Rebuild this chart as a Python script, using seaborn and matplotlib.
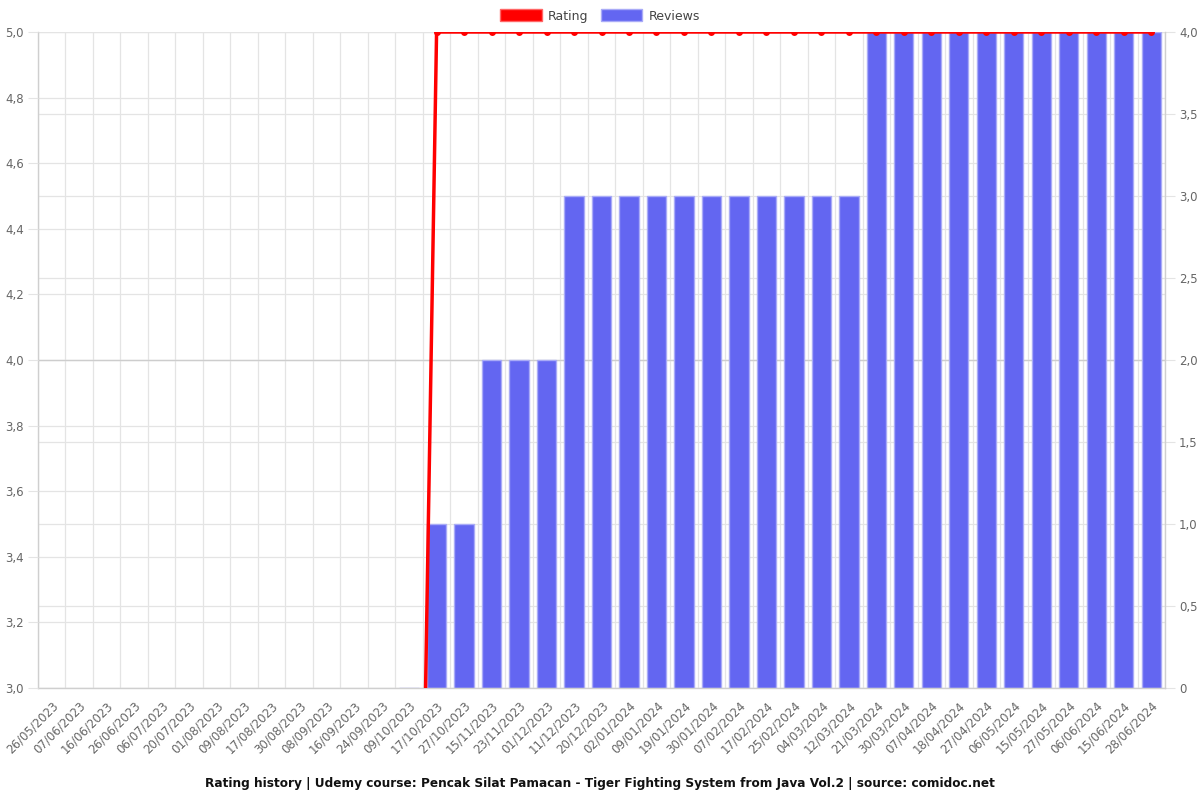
import matplotlib.pyplot as plt
import matplotlib.ticker as mticker
from matplotlib.patches import Patch
import numpy as np
import seaborn as sns

# data
dates = ["26/05/2023", "07/06/2023", "16/06/2023", "26/06/2023", "06/07/2023",
         "20/07/2023", "01/08/2023", "09/08/2023", "17/08/2023", "30/08/2023",
         "08/09/2023", "16/09/2023", "24/09/2023", "09/10/2023", "17/10/2023",
         "27/10/2023", "15/11/2023", "23/11/2023", "01/12/2023", "11/12/2023",
         "20/12/2023", "02/01/2024", "09/01/2024", "19/01/2024", "30/01/2024",
         "07/02/2024", "17/02/2024", "25/02/2024", "04/03/2024", "12/03/2024",
         "21/03/2024", "30/03/2024", "07/04/2024", "18/04/2024", "27/04/2024",
         "06/05/2024", "15/05/2024", "27/05/2024", "06/06/2024", "15/06/2024",
         "28/06/2024"]
rating = [np.nan] * 13 + [0.0] + [5.0] * 27
reviews = [np.nan] * 13 + [0, 1, 1, 2, 2, 2] + [3] * 11 + [4] * 11

rating_ticks = np.arange(3.0, 5.01, 0.2)
review_ticks = np.arange(0, 4.01, 0.5)

grid_col = "#e4e4e4"
text_col = "#666666"
bar_col = "#6366F1"

sns.set_style("white")
plt.rcParams["font.family"] = ["DejaVu Sans"]

fig = plt.figure(figsize=(12, 8), dpi=100)
ax = fig.add_axes([38 / 1200, 1 - 688 / 800, (1165 - 38) / 1200, (688 - 32) / 800])

# reviews bars (right axis)
x = np.arange(len(dates))
sns.barplot(x=x, y=reviews, color=bar_col, saturation=1, width=0.7,
            edgecolor="#a9abf7", linewidth=1, ax=ax, zorder=2)
ax.set_ylim(0, 4)
ax.set_xlim(-0.5, len(dates) - 0.5)
ax.set_yticks(review_ticks)
ax.yaxis.set_major_formatter(mticker.FuncFormatter(
    lambda v, p: "0" if v == 0 else f"{v:.1f}".replace(".", ",")))

# grid lines: category boundaries + both axes' horizontal ticks
for b in np.arange(-0.5, len(dates) + 0.5, 1):
    ax.axvline(b, color=grid_col, lw=0.9, zorder=0)
for t in review_ticks:
    ax.axhline(t, color=grid_col, lw=0.9, zorder=0)
for t in rating_ticks:
    ax.axhline((t - 3.0) * 2, color=grid_col, lw=0.9, zorder=0)
# both grids coincide at 4,0 / 2,0 -> darker line there
ax.axhline(2.0, color="#cdcdcd", lw=0.9, zorder=0.5)

ax.set_xticks(x)
ax.set_xticklabels(dates, rotation=45, ha="right", rotation_mode="anchor")
ax.tick_params(axis="x", length=0, pad=8, labelsize=8.5, labelcolor=text_col)
ax.set_xlabel("")
for s in ax.spines.values():
    s.set_color("#cfcfcf")
    s.set_linewidth(1)
ax.spines["top"].set_visible(False)

# ticks between categories on x
ax.set_xticks(np.arange(-0.5, len(dates) + 0.5, 1), minor=True)
ax.tick_params(axis="x", which="minor", length=6, color=grid_col)

# rating line (left axis)
axl = ax.twinx()
sns.lineplot(x=x, y=rating, color="red", lw=2.5, marker="o", markersize=5,
             markeredgewidth=0, ax=axl, zorder=3)
axl.set_ylim(3.0, 5.0)
axl.set_yticks(rating_ticks)
axl.yaxis.set_major_formatter(mticker.FuncFormatter(
    lambda v, p: f"{v:.1f}".replace(".", ",")))
for s in axl.spines.values():
    s.set_visible(False)

# swap sides: rating on the left, reviews on the right
axl.yaxis.tick_left()
ax.yaxis.tick_right()
for a in (ax, axl):
    a.tick_params(axis="y", length=7, color=grid_col, labelsize=8.5,
                  labelcolor=text_col, pad=3)

handles = [Patch(facecolor="red", edgecolor="#ff6666", label="Rating"),
           Patch(facecolor=bar_col, edgecolor="#a9abf7", label="Reviews")]
fig.legend(handles=handles, loc="center", bbox_to_anchor=(0.5, 1 - 16 / 800),
           ncol=2, frameon=False, fontsize=9, handlelength=3.3,
           handleheight=1.1, columnspacing=1.0, handletextpad=0.5,
           labelcolor="#444444")

fig.text(0.5, 1 - 783 / 800,
         "Rating history | Udemy course: Pencak Silat Pamacan - Tiger Fighting "
         "System from Java Vol.2 | source: comidoc.net",
         ha="center", va="center", fontsize=8.7, fontweight="bold", color="#111111")

fig.savefig("out.png", dpi=100)
